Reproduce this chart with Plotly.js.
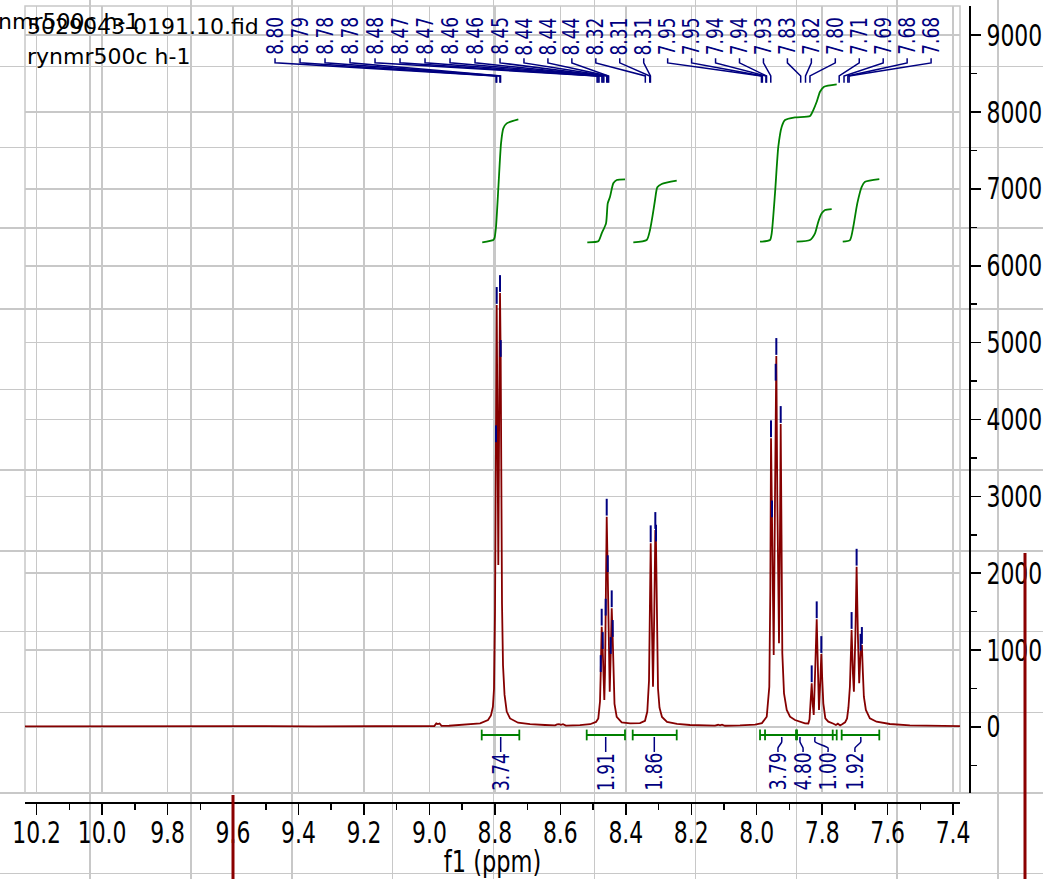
<!DOCTYPE html>
<html><head><meta charset="utf-8">
<script src="https://cdn.plot.ly/plotly-3.0.1.min.js"></script>
<style>html,body{margin:0;padding:0;background:#fff}#chart{width:1043px;height:879px}</style>
</head><body><div id="chart"></div>
<script>
// ---------- spectrum trace (ppm, intensity) ----------
const specPpm = [10.236,10.10,9.95,9.80,9.65,9.50,9.35,9.20,9.08,9.00,8.985,8.979,8.974,8.969,8.963,8.94,8.906,8.870,8.845,8.821,8.812,8.806,8.8026,8.7996,8.7975,8.7965,8.7944,8.7925,8.7895,8.7867,8.7843,8.7822,8.7803,8.7782,8.7751,8.7705,8.7638,8.7537,8.7292,8.6926,8.6467,8.616,8.610,8.604,8.598,8.592,8.583,8.540,8.509,8.491,8.484,8.4805,8.4788,8.4766,8.4736,8.4705,8.4681,8.4656,8.4635,8.4614,8.4583,8.4552,8.4522,8.4491,8.4461,8.4430,8.4400,8.4376,8.4345,8.4278,8.4125,8.387,8.3566,8.3413,8.3343,8.3291,8.3261,8.3239,8.3212,8.3169,8.3129,8.3098,8.3077,8.3047,8.3016,8.2970,8.2894,8.2741,8.2435,8.2038,8.1732,8.1274,8.118,8.112,8.106,8.097,8.051,8.005,7.984,7.9694,7.9615,7.9584,7.9563,7.9533,7.9481,7.9441,7.9420,7.9401,7.9371,7.9319,7.9289,7.9267,7.9242,7.9218,7.9166,7.9083,7.8983,7.8830,7.8524,7.8423,7.8386,7.8347,7.8320,7.8289,7.8258,7.8209,7.8167,7.8127,7.8097,7.8057,7.8026,7.7996,7.7965,7.7904,7.7812,7.767,7.758,7.752,7.745,7.739,7.730,7.724,7.7198,7.7153,7.7101,7.7061,7.7031,7.6985,7.6948,7.6909,7.6869,7.6826,7.6787,7.6756,7.6726,7.6665,7.6543,7.6338,7.5932,7.532,7.471,7.420,7.379];
const specInt = [8,10,7,11,8,10,7,11,12,14,12,45,36,44,14,15,25,32,47,90,150,263,500,1500,3000,3690,5490,4200,2106,4200,5645,4800,3000,1600,800,420,200,110,55,35,25,20,32,36,28,36,18,22,35,65,110,220,330,700,1304,1000,550,350,700,1434,2735,2000,1000,458,935,1543,1157,600,300,130,60,45,50,80,200,600,1400,2389,1600,523,1500,2562,2397,1200,500,250,130,65,40,25,20,18,28,20,30,15,20,30,50,133,523,1800,3755,2714,935,3000,4491,4826,3000,1088,2500,3941,2500,958,437,220,133,90,47,45,100,350,567,300,155,800,1400,700,220,600,948,600,307,112,68,45,25,42,20,35,60,110,250,523,1261,700,458,1200,2084,1200,567,978,1066,700,393,220,112,68,38,20,15,12,10];

// ---------- picked peaks ----------
const peakLabels = ['8.80','8.79','8.78','8.78','8.48','8.47','8.47','8.46','8.46','8.45','8.44','8.44','8.44','8.32','8.31','8.31','7.95','7.95','7.94','7.94','7.93','7.83','7.82','7.80','7.71','7.69','7.68','7.68'];
const peakPpm = [8.7965,8.7944,8.7843,8.7822,8.4766,8.4736,8.4705,8.4614,8.4583,8.4552,8.4461,8.4430,8.4400,8.3239,8.3098,8.3077,7.9563,7.9533,7.9420,7.9401,7.9267,7.8320,7.8167,7.8026,7.7101,7.6948,7.6826,7.6787];
const peakHeight = [3690,5490,5645,4800,700,1304,1000,1434,2735,2000,935,1543,1157,2389,2562,2397,3755,2714,4491,4826,3941,567,1400,948,1261,2084,978,1066];

// ---------- integral curves ----------
const int1Ppm = [8.8386,8.8048,8.8011,8.7965,8.7889,8.7812,8.7742,8.7638,8.7283];
const int1Val = [6305,6335,6361,6508,7050,7593,7788,7853,7905];
const int2Ppm = [8.5176,8.4840,8.4736,8.4604,8.4552,8.4482,8.4381,8.4277,8.4024];
const int2Val = [6305,6318,6422,6552,6812,6898,7073,7116,7125];
const int3Ppm = [8.3770,8.3361,8.3260,8.3178,8.3107,8.3037,8.2903,8.2444];
const int3Val = [6305,6335,6466,6661,6856,7021,7064,7107];
const int4Ppm = [7.9899,7.9594,7.9542,7.9441,7.9340,7.9236,7.9135,7.8830,7.8371,7.8271,7.8167,7.8066,7.7944,7.7556];
const int4Val = [6313,6335,6422,6943,7549,7809,7896,7931,7948,8026,8134,8264,8330,8361];
const int5Ppm = [7.8778,7.8371,7.8219,7.8118,7.8014,7.7913,7.7709];
const int5Val = [6313,6335,6422,6573,6682,6725,6738];
const int6Ppm = [7.7372,7.7149,7.7049,7.6927,7.6792,7.6691,7.6254];
const int6Val = [6313,6335,6508,6812,7028,7093,7128];

// integral regions (brackets) and their values
const bracketStart = [8.8402,8.5194,8.3789,7.9746,7.9899,7.8768,7.7404];
const bracketEnd   = [8.7253,8.4024,8.2444,7.8799,7.7556,7.7678,7.6255];
const intLabels  = ['3.74','1.91','1.86','3.79','4.80','1.00','1.92'];
const intFrom    = [8.7822,8.4614,8.3129,7.9236,7.8677,7.8218,7.6822];
const intLabelX  = [8.7822,8.4614,8.3129,7.9349,7.8585,7.7822,7.6997];

// ---------- axis ranges ----------
const xRange = [10.2356, 7.3789];
const yRange = [-856, 9380];

// ---------- style / layout ----------
const W = 1043, H = 879;
const GRID = '#c8c8c8';
const FONT = '"DejaVu Sans",Verdana,sans-serif';
const BLUE = '#000080', RED = '#850000', GREEN = '#008000';

const traces = [];
traces.push({x:[null], y:[null], xaxis:'x', yaxis:'y', mode:'lines', hoverinfo:'skip', showlegend:false});

const ints = [[int1Ppm,int1Val],[int2Ppm,int2Val],[int3Ppm,int3Val],[int4Ppm,int4Val],[int5Ppm,int5Val],[int6Ppm,int6Val]];
ints.forEach(([p,v]) => traces.push({x:p, y:v, xaxis:'x2', yaxis:'y2', mode:'lines',
  line:{color:GREEN, width:1.8, shape:'spline', smoothing:0.6}, hoverinfo:'skip', showlegend:false}));

traces.push({x:specPpm, y:specInt, xaxis:'x2', yaxis:'y2', mode:'lines',
  line:{color:RED, width:1.8}, hoverinfo:'skip', showlegend:false});

// brackets
const bx=[], by=[];
const BY = -105, BT = -35, BB = -175;
bracketStart.forEach((s,i)=>{
  const e = bracketEnd[i];
  bx.push(s,e,null, s,s,null, e,e,null);
  by.push(BY,BY,null, BT,BB,null, BT,BB,null);
});
traces.push({x:bx, y:by, xaxis:'x2', yaxis:'y2', mode:'lines', line:{color:GREEN, width:1.8}, hoverinfo:'skip', showlegend:false});

// integral label leaders
const ilx=[], ily=[];
intFrom.forEach((f,i)=>{ ilx.push(f,f,intLabelX[i],intLabelX[i],null); ily.push(-131,-196,-274,-326,null); });
traces.push({x:ilx, y:ily, xaxis:'x2', yaxis:'y2', mode:'lines', line:{color:BLUE, width:1.5, shape:'spline', smoothing:0.5}, hoverinfo:'skip', showlegend:false});

// peak label columns (layout: evenly spread label positions)
const P0 = 8.7935;
const labelX = peakPpm.map((p,i)=> 9.4717 - 0.07638*Math.min(i,9) - 0.07317*Math.max(0,i-9));
const lx=[], ly=[];
peakPpm.forEach((p,i)=>{
  const ex = P0 + (p-P0)*0.965;
  lx.push(labelX[i],labelX[i],ex,ex,null); ly.push(8700,8640,8470,8380,null);
});
traces.push({x:lx, y:ly, xaxis:'x2', yaxis:'y2', mode:'lines', line:{color:BLUE, width:1.5}, hoverinfo:'skip', showlegend:false});

// peak markers
traces.push({x:peakPpm, y:peakHeight.map(h=>h+124), xaxis:'x2', yaxis:'y2', mode:'markers',
  marker:{symbol:'line-ns', size:12, line:{color:BLUE, width:2}}, hoverinfo:'skip', showlegend:false});

const annotations = [];
peakLabels.forEach((t,i)=>annotations.push({xref:'x2', yref:'y2', x:labelX[i], y:8985, text:t, textangle:-90,
  showarrow:false, xanchor:'center', yanchor:'middle', font:{family:FONT, size:23, color:BLUE}, borderpad:0}));
intLabels.forEach((t,i)=>annotations.push({xref:'x2', yref:'y2', x:intLabelX[i], y:-586, text:t, textangle:-90,
  showarrow:false, xanchor:'center', yanchor:'middle', font:{family:FONT, size:23, color:BLUE}, borderpad:0}));
annotations.push({xref:'paper', yref:'paper', x:-26/W, y:1-7/H, xanchor:'left', yanchor:'top', text:'rynmr500c h-1', showarrow:false, font:{family:FONT,size:22,color:'#000'}});
annotations.push({xref:'paper', yref:'paper', x:25/W, y:1-12/H, xanchor:'left', yanchor:'top', text:'5029043-0191.10.fid', showarrow:false, font:{family:FONT,size:22,color:'#000'}});
annotations.push({xref:'paper', yref:'paper', x:25/W, y:1-42/H, xanchor:'left', yanchor:'top', text:'rynmr500c h-1', showarrow:false, font:{family:FONT,size:22,color:'#000'}});

const layout = {
  width:W, height:H, margin:{l:0,r:0,t:0,b:0,pad:0},
  paper_bgcolor:'#fff', plot_bgcolor:'rgba(0,0,0,0)', showlegend:false,
  xaxis:{domain:[0,1], range:[0,W], tick0:90, dtick:100.9, showgrid:true, gridcolor:GRID, gridwidth:1.5,
    showticklabels:false, ticks:'', zeroline:false, showline:false, fixedrange:true},
  yaxis:{domain:[0,1], range:[H,0], tick0:66.7, dtick:80.7, showgrid:true, gridcolor:GRID, gridwidth:1.5,
    showticklabels:false, ticks:'', zeroline:false, showline:false, fixedrange:true},
  xaxis2:{domain:[25/W, 960/W], range:xRange, anchor:'free', position:1-802/H,
    tick0:0, dtick:0.2, tickformat:'.1f', tickangle:0, ticks:'outside', ticklen:11, tickwidth:1.5, tickcolor:'#000',
    ticklabelstandoff:-7,
    showline:true, linecolor:'#000', linewidth:1.5, showgrid:true, gridcolor:GRID, gridwidth:1.5, zeroline:false,
    minor:{dtick:0.1, ticks:'outside', ticklen:6, tickwidth:1.5, tickcolor:'#000', showgrid:false},
    tickfont:{family:FONT, size:30, color:'#000'},
    title:{text:'f1 (ppm)', font:{family:FONT, size:30, color:'#000'}, standoff:10}},
  yaxis2:{domain:[1-792.7/H, 1-6/H], range:yRange, anchor:'free', position:969/W, side:'right',
    tick0:0, dtick:1000, tickformat:'d', tickangle:0, ticks:'outside', ticklen:10, tickwidth:1.5, tickcolor:'#000',
    showline:true, linecolor:'#000', linewidth:1.5, showgrid:true, gridcolor:GRID, gridwidth:1.5, zeroline:false,
    minor:{dtick:500, ticks:'outside', ticklen:6, tickwidth:1.5, tickcolor:'#000', showgrid:false},
    tickfont:{family:FONT, size:30, color:'#000'}},
  shapes:[
    {type:'rect', xref:'x2 domain', yref:'y2 domain', x0:0, x1:1, y0:0, y1:1, line:{color:GRID, width:1.5}, layer:'below'},
    {type:'line', xref:'paper', yref:'paper', x0:233/W, x1:233/W, y0:1-795/H, y1:0, line:{color:'#8b0000', width:3}},
    {type:'line', xref:'paper', yref:'paper', x0:1025/W, x1:1025/W, y0:1-553/H, y1:0, line:{color:'#8b0000', width:3}}
  ],
  annotations:annotations
};

// narrow (condensed) lettering, as in the reference: scale each text along its own writing direction
const SVGNS = 'http://www.w3.org/2000/svg';
function squeeze(el, k, anchor){
  const g = document.createElementNS(SVGNS, 'g');
  el.parentNode.insertBefore(g, el);
  g.appendChild(el);
  const b = g.getBBox();
  if (!b.width) return;
  const ax = anchor === 'start' ? b.x : b.x + b.width/2;
  g.setAttribute('transform', 'translate(' + ax + ',0) scale(' + k + ',1) translate(' + (-ax) + ',0)');
}
Plotly.newPlot('chart', traces, layout, {staticPlot:true, displayModeBar:false}).then(gd => {
  gd.querySelectorAll('.x2tick text').forEach(t => squeeze(t, 0.73, 'middle'));
  gd.querySelectorAll('.y2tick text').forEach(t => squeeze(t, 0.73, 'start'));
  gd.querySelectorAll('text.x2title').forEach(t => squeeze(t, 0.75, 'middle'));
  const nLab = peakLabels.length + intLabels.length;
  gd.querySelectorAll('g.annotation').forEach(g => {
    const i = +g.getAttribute('data-index');
    if (i < nLab) g.querySelectorAll('text').forEach(t => squeeze(t, 0.74, 'middle'));
  });
});
</script></body></html>
